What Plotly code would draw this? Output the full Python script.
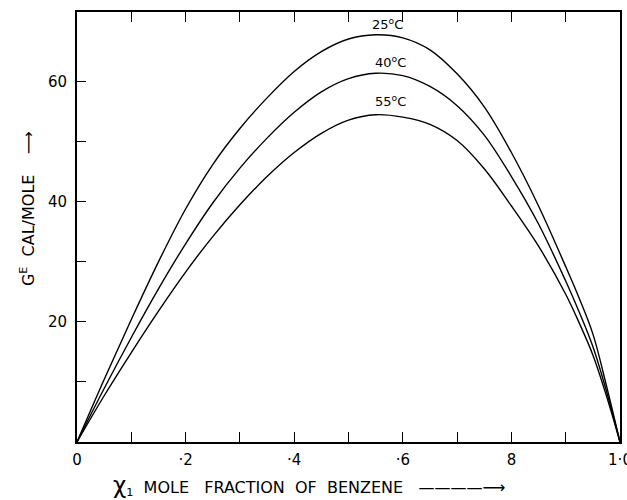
import plotly.graph_objects as go

# Data
x_frac = [0, 0.05, 0.1, 0.15, 0.2, 0.25, 0.3, 0.35, 0.4, 0.45, 0.5, 0.55,
          0.6, 0.65, 0.7, 0.75, 0.8, 0.85, 0.9, 0.925, 0.95, 0.975, 1.0]
ge_25 = [0, 10.4, 20.4, 30.0, 38.8, 46.2, 52.2, 57.3, 61.7, 65.0, 67.1, 67.8,
         67.3, 65.3, 61.3, 55.8, 48.2, 39.3, 29.2, 23.9, 18.0, 9.4, 0]
ge_40 = [0, 8.9, 17.4, 25.5, 33.0, 39.8, 45.6, 50.6, 54.9, 58.3, 60.5, 61.4,
         61.0, 59.2, 56.0, 51.1, 44.2, 36.3, 26.8, 21.6, 15.9, 8.5, 0]
ge_55 = [0, 7.7, 14.9, 21.8, 28.3, 34.2, 39.5, 44.2, 48.2, 51.4, 53.6, 54.5,
         54.1, 52.9, 50.2, 45.5, 39.3, 32.6, 24.6, 19.8, 14.5, 7.7, 0]

series_names = ["25<sup>o</sup>C", "40<sup>o</sup>C", "55<sup>o</sup>C"]
label_x = [0.572, 0.577, 0.577]
label_y = [69.6, 63.3, 56.8]

x_tickvals = [0, 0.1, 0.2, 0.3, 0.4, 0.5, 0.6, 0.7, 0.8, 0.9, 1.0]
x_ticktext = ["0", "", "·2", "", "·4", "", "·6", "", "8", "", "1·0"]
y_tickvals = [10, 20, 30, 40, 50, 60]
y_ticktext = ["", "20", "", "40", "", "60"]

FONT = "DejaVu Sans"

fig = go.Figure()
for ys in (ge_25, ge_40, ge_55):
    fig.add_trace(go.Scatter(
        x=x_frac, y=ys, mode="lines",
        line=dict(color="black", width=1.4, shape="spline", smoothing=1.0),
        showlegend=False, hoverinfo="skip"))

for name, lx, ly in zip(series_names, label_x, label_y):
    fig.add_annotation(x=lx, y=ly, text=name, showarrow=False,
                       font=dict(family=FONT, size=13, color="black"))

fig.add_annotation(xref="paper", yref="paper", x=0.428, y=-0.10,
                   text="<span style='font-size:23px'>χ</span><sub>1</sub>  MOLE   FRACTION  OF  BENZENE   ————⟶",
                   showarrow=False, xanchor="center", yanchor="middle",
                   font=dict(family=FONT, size=16, color="black"))
fig.add_annotation(xref="paper", yref="paper", x=-0.09, y=0.542,
                   text="G<sup>E</sup>  CAL/MOLE    ⟶", textangle=-90,
                   showarrow=False, xanchor="center", yanchor="middle",
                   font=dict(family=FONT, size=16, color="black"))

fig.update_layout(
    width=627, height=500,
    margin=dict(l=77, r=7, t=12, b=58, autoexpand=False),
    paper_bgcolor="white", plot_bgcolor="white",
    font=dict(family=FONT, size=15, color="black"),
    xaxis=dict(range=[0, 1.0], tickvals=x_tickvals, ticktext=x_ticktext,
               ticks="inside", ticklen=10, tickwidth=1, tickcolor="black",
               showline=True, linecolor="black", linewidth=2,
               mirror="ticks", showgrid=False, zeroline=False, automargin=False,
               ticklabelstandoff=3, ticklabeloverflow="allow", fixedrange=True),
    yaxis=dict(range=[0, 71.6], tickvals=y_tickvals, ticktext=y_ticktext,
               ticks="inside", ticklen=9, tickwidth=1, tickcolor="black",
               showline=True, linecolor="black", linewidth=2,
               mirror=True, showgrid=False, zeroline=False, automargin=False,
               ticklabelstandoff=5, fixedrange=True),
)

fig.write_html("out.html", config={"displayModeBar": False},
               post_script="document.body.style.margin='0px';document.body.style.padding='0px';")
